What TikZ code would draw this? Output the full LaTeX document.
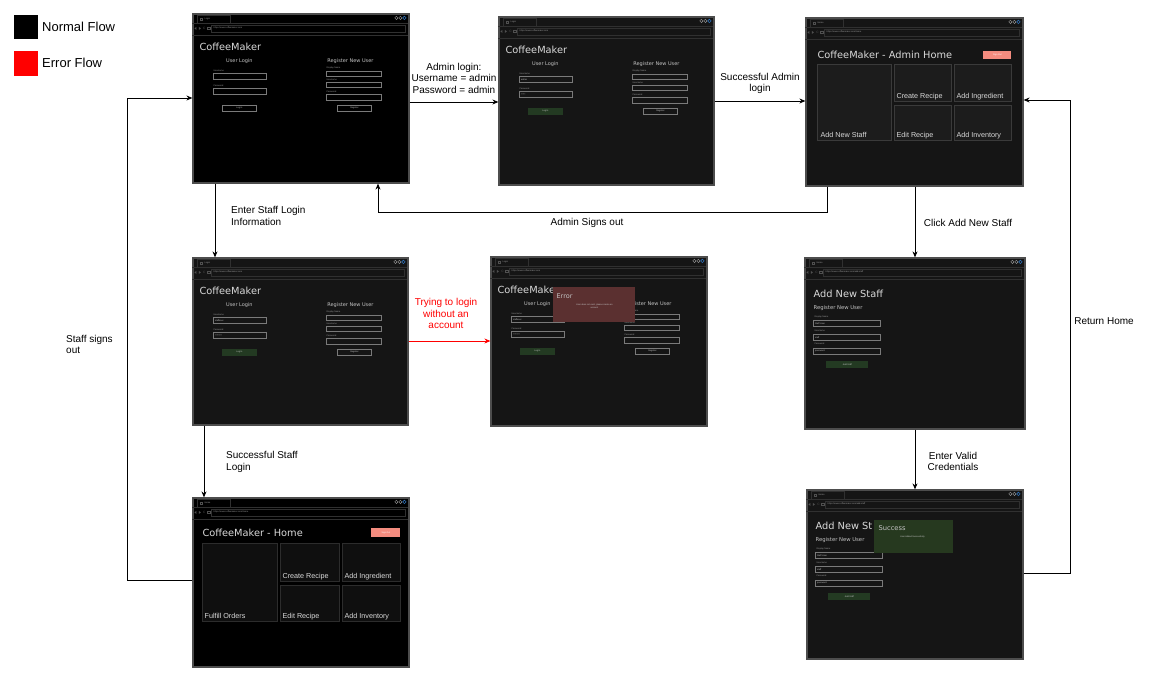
\documentclass[tikz,border=0pt]{standalone}
\usepackage{fontspec}
\setmainfont{Liberation Sans}
\newfontfamily\djv{DejaVu Sans}
\usetikzlibrary{arrows.meta}
\definecolor{winedge}{HTML}{4D4D4D}
\definecolor{bgdark}{HTML}{151515}
\definecolor{chromeline}{HTML}{303030}
\definecolor{iconline}{HTML}{505050}
\definecolor{inedge}{HTML}{7A7A7A}
\definecolor{tilefill}{HTML}{1C1C1C}
\definecolor{tileedge}{HTML}{3A3A3A}
\definecolor{tilefillb}{HTML}{0F0F0F}
\definecolor{tileedgeb}{HTML}{2C2C2C}
\definecolor{greenbtn}{HTML}{233A22}
\definecolor{salmon}{HTML}{F48C7F}
\definecolor{errfill}{HTML}{5B3030}
\definecolor{okfill}{HTML}{26391F}
\definecolor{titletxt}{HTML}{DADADA}
\definecolor{subtxt}{HTML}{C4C4C4}
\definecolor{lbltxt}{HTML}{9A9A9A}
\definecolor{blueish}{HTML}{2D6FB5}
\definecolor{errred}{HTML}{FF0000}
\newcommand{\mytiny}{\fontsize{2.2}{2.7}\selectfont}
\tikzset{
 win/.style={rectangle, draw=winedge, line width=1.2pt, inner sep=0pt},
 flow/.style={draw=black, line width=0.9pt, -{Stealth[length=6pt,width=5pt]}},
 lbl/.style={font=\fontsize{10}{11.5}\selectfont, align=center, inner sep=0pt, text=black},
 lbll/.style={lbl, align=left, anchor=west},
 chrome/.style={draw=chromeline, line width=0.5pt},
 icon/.style={draw=iconline, line width=0.3pt},
 tinylbl/.style={font=\mytiny, text=lbltxt, inner sep=0pt, anchor=west},
 inbox/.style={draw=inedge, line width=0.45pt},
 btn/.style={draw=inedge, line width=0.45pt},
 btntxt/.style={font=\mytiny, text=subtxt, inner sep=0pt},
 apptitle/.style={font=\djv\fontsize{9.8}{11}\selectfont, text=titletxt, inner sep=0pt, anchor=west},
 appsub/.style={font=\djv\fontsize{5}{6}\selectfont, text=subtxt, inner sep=0pt},
 tile/.style={fill=tilefill, draw=tileedge, line width=0.6pt},
 tileb/.style={fill=tilefillb, draw=tileedgeb, line width=0.6pt},
 tiletxt/.style={font=\fontsize{7.2}{8}\selectfont, text=titletxt, inner sep=0pt, anchor=west},
}
\newcommand{\drawchrome}[4]{%
 \begin{scope}[shift={(#1.north west)}]
  \draw[chrome] (0,9.5) -- (#2,9.5);
  \draw[chrome] (5,9.5) -- (5,1.5) -- (38,1.5) -- (38,9.5);
  \draw[icon] (8,4.5) rectangle (10,6.5);
  \node[tinylbl] at (12,5.5) {#3};
  \draw[draw=lbltxt, line width=0.4pt] (#2-12,4.5) circle (1.7);
  \draw[draw=lbltxt, line width=0.4pt] (#2-8,4.5) circle (1.7);
  \draw[draw=blueish, line width=0.6pt] (#2-4,4.5) circle (1.7);
  \fill[iconline] (2,15) -- (4,13.5) -- (4,16.5) -- cycle;
  \fill[iconline] (8.5,15) -- (6.5,13.5) -- (6.5,16.5) -- cycle;
  \node[font=\fontsize{3.2}{3.5}\selectfont, text=iconline, inner sep=0pt] at (12,15) {C};
  \draw[icon] (15,13.8) rectangle (17.4,16.2);
  \draw[chrome] (19,11.5) rectangle (#2-3,18.5);
  \node[tinylbl] at (21,15) {#4};
  \draw[chrome] (0,21.5) -- (#2,21.5);
 \end{scope}}
\newcommand{\inputbox}[5]{%
 \draw[inbox] (#1,#2) rectangle (#3,#4);
 \node[tinylbl, text=subtxt] at (#1+1.5,{(#2+#4)/2}) {#5};}
\newcommand{\loginform}[3]{%
 \node[apptitle] at (7,33) {CoffeeMaker};
 \node[appsub] at (47,48) {User Login};
 \node[tinylbl] at (21,57.5) {Username};
 \inputbox{21}{60}{74}{66}{#1}
 \node[tinylbl] at (21,72.5) {Password};
 \inputbox{21}{75}{74}{81}{#2}
 \draw[btn,#3] (30,92) rectangle (64,98);
 \node[btntxt] at (47,95) {Log In};
 \node[appsub] at (158,48) {Register New User};
 \node[tinylbl] at (134,55) {Display Name};
 \inputbox{134}{58}{189}{63}{}
 \node[tinylbl] at (134,66.5) {Username};
 \inputbox{134}{69}{189}{74}{}
 \node[tinylbl] at (134,78.5) {Password};
 \inputbox{134}{81}{189}{87}{}
 \draw[btn] (145,92) rectangle (179,98);
 \node[btntxt] at (162,95) {Register};}
\newcommand{\staffform}[4]{%
 \node[apptitle] at (9,36) {#4};
 \node[appsub, anchor=west, font=\djv\fontsize{5.3}{6}\selectfont] at (9,51) {Register New User};
 \node[tinylbl] at (10,59.5) {Display Name};
 \inputbox{9}{63}{76}{69}{#1}
 \node[tinylbl] at (10,73) {Username};
 \inputbox{9}{77}{76}{83}{#2}
 \node[tinylbl] at (10,86.5) {Password};
 \inputbox{9}{91}{76}{97}{#3}
 \fill[greenbtn] (22,104) rectangle (64,111);
 \node[btntxt] at (43,107.5) {Add Staff};}
\begin{document}
\begin{tikzpicture}[x=1pt, y=-1pt]
\useasboundingbox (0,0) rectangle (1150,685);
\fill[white] (0,0) rectangle (1150,685);
% legend
\node[fill=black, minimum size=24pt, inner sep=0pt] (legnormal) at (26,27.5) {};
\node[anchor=west, inner sep=0pt, font=\fontsize{13}{15}\selectfont] (legnormaltxt) at (42,27) {Normal Flow};
\node[fill=errred, minimum size=24pt, inner sep=0pt] (legerror) at (26,63.5) {};
\node[anchor=west, inner sep=0pt, font=\fontsize{13}{15}\selectfont] (legerrortxt) at (42,62.5) {Error Flow};
% windows
\node[win, fill=black, minimum width=216pt, minimum height=169pt] (login) at (301,98.5) {};
\node[win, fill=bgdark, minimum width=215pt, minimum height=168pt] (adminlogin) at (606.5,101) {};
\node[win, fill=bgdark, minimum width=217pt, minimum height=168pt] (adminhome) at (914.5,102) {};
\node[win, fill=bgdark, minimum width=215pt, minimum height=167pt] (stafflogin) at (300.5,341.5) {};
\node[win, fill=bgdark, minimum width=216pt, minimum height=169pt] (error) at (599,341.5) {};
\node[win, fill=bgdark, minimum width=220pt, minimum height=171pt] (addstaff) at (915,343.5) {};
\node[win, fill=black, minimum width=216pt, minimum height=169pt] (staffhome) at (301,582.5) {};
\node[win, fill=bgdark, minimum width=216pt, minimum height=169pt] (success) at (915,574.5) {};
% chrome
\drawchrome{login}{216}{Login}{https://www.coffeemaker.com}
\drawchrome{adminlogin}{215}{Login}{https://www.coffeemaker.com}
\drawchrome{adminhome}{217}{Home}{https://www.coffeemaker.com/home}
\drawchrome{stafflogin}{215}{Login}{https://www.coffeemaker.com}
\drawchrome{error}{216}{Login}{https://www.coffeemaker.com}
\drawchrome{addstaff}{220}{Home}{https://www.coffeemaker.com/add-staff}
\drawchrome{staffhome}{216}{Home}{https://www.coffeemaker.com/home}
\drawchrome{success}{216}{Home}{https://www.coffeemaker.com/add-staff}
% contents
\begin{scope}[shift={(login.north west)}]
 \loginform{}{}{}
\end{scope}
\begin{scope}[shift={(adminlogin.north west)}]
 \loginform{admin}{*****}{draw=greenbtn, fill=greenbtn}
\end{scope}
\begin{scope}[shift={(stafflogin.north west)}]
 \loginform{staffuser}{********}{draw=greenbtn, fill=greenbtn}
\end{scope}
\begin{scope}[shift={(error.north west)}]
 \loginform{staffuser}{********}{draw=greenbtn, fill=greenbtn}
 \fill[errfill] (63,31) rectangle (145,66);
 \node[appsub, anchor=west, font=\djv\fontsize{6.5}{7}\selectfont] at (66,40) {Error};
 \node[btntxt, align=center] at (104,50) {User does not exist, please create an\\account};
\end{scope}
\begin{scope}[shift={(adminhome.north west)}]
 \node[apptitle] at (12,37) {CoffeeMaker - Admin Home};
 \fill[salmon] (178,34) rectangle (206,42);
 \node[btntxt, text=white] at (192,38) {Sign Out};
 \draw[tile] (12,47) rectangle (86,123); \node[tiletxt] at (15,118) {Add New Staff};
 \draw[tile] (89,47) rectangle (146,84); \node[tiletxt] at (91,79) {Create Recipe};
 \draw[tile] (149,47) rectangle (206,84); \node[tiletxt] at (151,79) {Add Ingredient};
 \draw[tile] (89,88) rectangle (146,123); \node[tiletxt] at (91,118) {Edit Recipe};
 \draw[tile] (149,88) rectangle (206,123); \node[tiletxt] at (151,118) {Add Inventory};
\end{scope}
\begin{scope}[shift={(staffhome.north west)}]
 \node[apptitle] at (10,35) {CoffeeMaker - Home};
 \fill[salmon] (179,31) rectangle (208,40);
 \node[btntxt, text=white] at (193.5,35.5) {Sign Out};
 \draw[tileb] (10,46) rectangle (85,124); \node[tiletxt] at (12,119) {Fulfill Orders};
 \draw[tileb] (88,46) rectangle (147,84); \node[tiletxt] at (90,79) {Create Recipe};
 \draw[tileb] (150,46) rectangle (208,84); \node[tiletxt] at (152,79) {Add Ingredient};
 \draw[tileb] (88,88) rectangle (147,124); \node[tiletxt] at (90,119) {Edit Recipe};
 \draw[tileb] (150,88) rectangle (208,124); \node[tiletxt] at (152,119) {Add Inventory};
\end{scope}
\begin{scope}[shift={(addstaff.north west)}]
 \staffform{Staff User}{staff}{password}{Add New Staff}
\end{scope}
\begin{scope}[shift={(success.north west)}]
 \staffform{Staff User}{staff}{password}{Add New St}
 \fill[okfill] (67.5,31) rectangle (147,64);
 \node[appsub, anchor=west, font=\djv\fontsize{6.7}{7}\selectfont] at (72,39) {Success};
 \node[btntxt] at (106,48) {User Added Successfully};
\end{scope}
% connectors
\draw[flow] (login.east |- 0,102) -- (adminlogin.west |- 0,102);
\draw[flow] (adminlogin.east |- 0,101) -- (adminhome.west |- 0,101);
\draw[flow] (adminhome.south -| 827,0) -- (827,212) -| (login.south -| 378,0);
\draw[flow] (adminhome.south -| 915,0) -- (addstaff.north -| 915,0);
\draw[flow] (login.south -| 215,0) -- (stafflogin.north -| 215,0);
\draw[flow, draw=errred] (stafflogin.east |- 0,341) -- (error.west |- 0,341);
\draw[flow] (stafflogin.south -| 204,0) -- (staffhome.north -| 204,0);
\draw[flow] (staffhome.west |- 0,580) -- (127,580) |- (login.west |- 0,98);
\draw[flow] (addstaff.south -| 915,0) -- (success.north -| 915,0);
\draw[flow] (success.east |- 0,573) -- (1070,573) |- (adminhome.east |- 0,100);
% labels
\node[lbl] (l1) at (454,78) {Admin login:\\Username = admin\\Password = admin};
\node[lbl] (l2) at (760,83.5) {Successful Admin\\login};
\node[lbl] (l3) at (587,223) {Admin Signs out};
\node[lbl] (l4) at (968,223) {Click Add New Staff};
\node[lbll] (l5) at (231,216) {Enter Staff Login\\Information};
\node[lbl, text=errred] (l6) at (446,313.5) {Trying to login\\without an\\account};
\node[lbll] (l7) at (226,462) {Successful Staff\\Login};
\node[lbll] (l8) at (66,344.5) {Staff signs\\out};
\node[lbl] (l9) at (953,461.5) {Enter Valid\\Credentials};
\node[lbl] (l10) at (1104,321) {Return Home};
\end{tikzpicture}
\end{document}
